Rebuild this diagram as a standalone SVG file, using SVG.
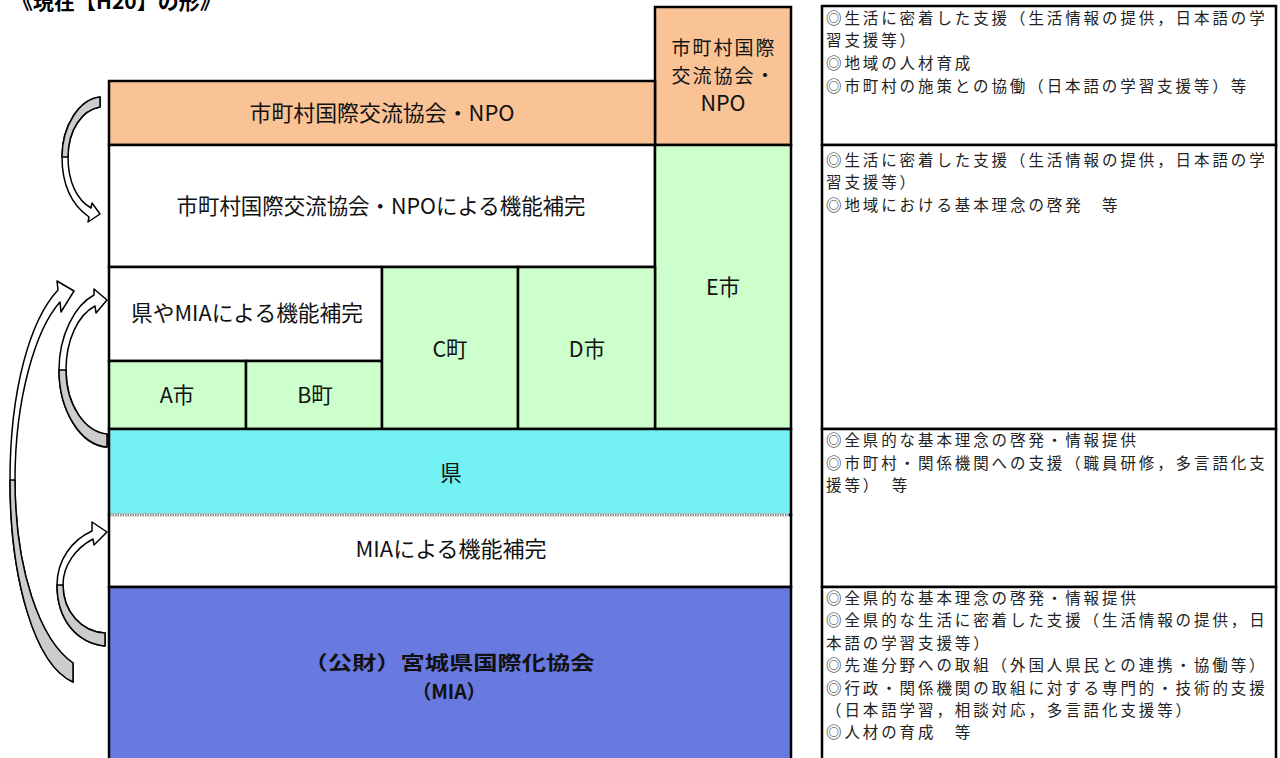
<svg xmlns="http://www.w3.org/2000/svg" width="1280" height="758" viewBox="0 0 1280 758">
<style>
.box{stroke:#000;stroke-width:2.5}
.lbl{font-family:"Noto Sans CJK JP","Noto Sans",sans-serif;font-size:21.5px;fill:#111;text-anchor:middle}
.sm{font-size:19px;letter-spacing:2px}
.bold{font-weight:bold;font-size:19.5px}
.note{font-family:"Noto Sans CJK JP","Noto Sans",sans-serif;font-size:15.5px;letter-spacing:2.9px;fill:#222}
.arr{stroke:#000;stroke-width:1.5;stroke-linejoin:round}
.w{fill:#fff}
.g{fill:#cccccc}
</style>
<rect width="1280" height="758" fill="#fff"/>
<text x="12" y="9" font-family="'Noto Sans CJK JP',sans-serif" font-size="21" font-weight="bold" fill="#000">《現在【H20】の形》</text>

<g id="node-npo-top">
<rect class="box" x="655" y="7" width="136" height="138" fill="#F9C396"/>
<text class="lbl sm" x="724" y="55">市町村国際</text>
<text class="lbl sm" x="724" y="83">交流協会・</text>
<text class="lbl" x="723" y="111" font-size="20px">NPO</text>
</g>
<g id="node-npo">
<rect class="box" x="109" y="81" width="546" height="64" fill="#F9C396"/>
<text class="lbl" x="382" y="121" textLength="265" lengthAdjust="spacingAndGlyphs">市町村国際交流協会・NPO</text>
</g>
<g id="node-npo-hokan">
<rect class="box" x="109" y="145" width="546" height="122" fill="#fff"/>
<text class="lbl" x="381" y="214" textLength="409" lengthAdjust="spacingAndGlyphs">市町村国際交流協会・NPOによる機能補完</text>
</g>
<g id="node-e">
<rect class="box" x="655" y="145" width="136" height="284" fill="#CCFFCC"/>
<text class="lbl" x="723" y="295">E市</text>
</g>
<g id="node-ken-mia-hokan">
<rect class="box" x="109" y="267" width="273" height="94" fill="#fff"/>
<text class="lbl" x="247" y="321" textLength="232" lengthAdjust="spacingAndGlyphs">県やMIAによる機能補完</text>
</g>
<g id="node-a">
<rect class="box" x="109" y="361" width="137" height="68" fill="#CCFFCC"/>
<text class="lbl" x="177" y="403">A市</text>
</g>
<g id="node-b">
<rect class="box" x="246" y="361" width="136" height="68" fill="#CCFFCC"/>
<text class="lbl" x="315" y="403">B町</text>
</g>
<g id="node-c">
<rect class="box" x="382" y="267" width="136" height="162" fill="#CCFFCC"/>
<text class="lbl" x="450" y="357">C町</text>
</g>
<g id="node-d">
<rect class="box" x="518" y="267" width="137" height="162" fill="#CCFFCC"/>
<text class="lbl" x="587" y="357">D市</text>
</g>
<g id="node-ken">
<rect class="box" x="109" y="429" width="682" height="86" fill="#72F0F2"/>
<text class="lbl" x="451" y="481">県</text>
</g>
<g id="node-mia-hokan">
<rect class="box" x="109" y="515" width="682" height="72" fill="#fff"/>
<line x1="111" y1="515" x2="789" y2="515" stroke="#fff" stroke-width="3"/>
<line x1="110" y1="515" x2="790" y2="515" stroke="#888" stroke-width="2" stroke-dasharray="1.5,1"/>
<text class="lbl" x="451" y="557" textLength="191" lengthAdjust="spacingAndGlyphs">MIAによる機能補完</text>
</g>
<g id="node-mia">
<rect class="box" x="109" y="587" width="682" height="180" fill="#6879E0"/>
<text class="lbl bold" x="449" y="670" textLength="291" lengthAdjust="spacingAndGlyphs">（公財）宮城県国際化協会</text>
<text class="lbl bold" x="449" y="699" textLength="74" lengthAdjust="spacing">（MIA）</text>
</g>

<g id="note-1">
<rect class="box" x="822" y="6" width="454" height="139" fill="#fff"/>
<text class="note" x="826" y="24">◎生活に密着した支援（生活情報の提供，日本語の学</text>
<text class="note" x="826" y="46">習支援等）</text>
<text class="note" x="826" y="69">◎地域の人材育成</text>
<text class="note" x="826" y="92">◎市町村の施策との協働（日本語の学習支援等）等</text>
</g>
<g id="note-2">
<rect class="box" x="822" y="145" width="454" height="284" fill="#fff"/>
<text class="note" x="826" y="166">◎生活に密着した支援（生活情報の提供，日本語の学</text>
<text class="note" x="826" y="188">習支援等）</text>
<text class="note" x="826" y="211">◎地域における基本理念の啓発　等</text>
</g>
<g id="note-3">
<rect class="box" x="822" y="429" width="454" height="158" fill="#fff"/>
<text class="note" x="826" y="446">◎全県的な基本理念の啓発・情報提供</text>
<text class="note" x="826" y="469">◎市町村・関係機関への支援（職員研修，多言語化支</text>
<text class="note" x="826" y="491">援等）　等</text>
</g>
<g id="note-4">
<rect class="box" x="822" y="587" width="454" height="180" fill="#fff"/>
<text class="note" x="826" y="604">◎全県的な基本理念の啓発・情報提供</text>
<text class="note" x="826" y="626">◎全県的な生活に密着した支援（生活情報の提供，日</text>
<text class="note" x="826" y="649">本語の学習支援等）</text>
<text class="note" x="826" y="671">◎先進分野への取組（外国人県民との連携・協働等）</text>
<text class="note" x="826" y="694">◎行政・関係機関の取組に対する専門的・技術的支援</text>
<text class="note" x="826" y="716">（日本語学習，相談対応，多言語化支援等）</text>
<text class="note" x="826" y="738">◎人材の育成　等</text>
</g>

<g id="connectors">
<path class="arr w" d="M100,97 C80,99 62,125 62,157 C62,185 72,205 89,217 L88,222 L100,214 L92,203 L91,208 C77,200 68,182 68,157 C68,130 82,110 100,107 Z"/>
<path class="arr g" d="M100,97 C80,99 62,125 62,157 L68,157 C68,130 82,110 100,107 Z"/>
<path class="arr w" d="M107,447 C80,445 59,410 59,370 C59,335 75,305 94,295 L94,289 L107,300 L96,313 L95,306 C78,315 66,340 66,370 C66,405 85,432 107,434 Z"/>
<path class="arr g" d="M107,447 C80,445 59,410 59,370 L66,370 C66,405 85,432 107,434 Z"/>
<path class="arr w" d="M73,682 C35,665 10,580 10,480 C10,390 30,320 58,290 L57,281 L74,291 L61,312 L60,302 C35,330 15,400 15,480 C15,570 40,640 73,663 Z"/>
<path class="arr g" d="M73,682 C35,665 10,580 10,480 L15,480 C15,570 40,640 73,663 Z"/>
<path class="arr w" d="M105,646 C77,643 57,620 57,585 C57,560 72,540 92,531 L92,522 L107,532 L94,545 L93,539 C76,548 63,565 63,585 C63,612 82,632 105,633 Z"/>
<path class="arr g" d="M105,646 C77,643 57,620 57,585 L63,585 C63,612 82,632 105,633 Z"/>
</g>
</svg>
